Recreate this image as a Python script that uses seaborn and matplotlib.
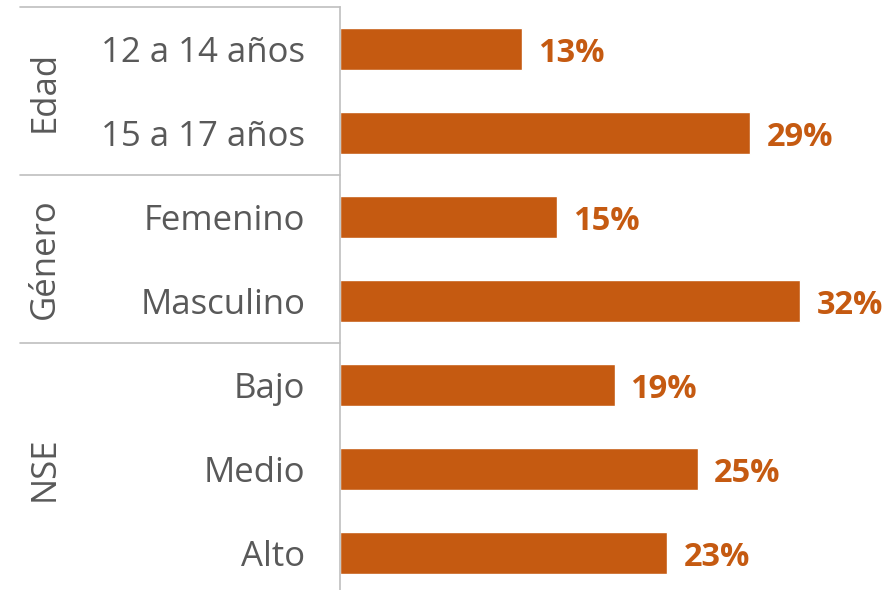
import pandas as pd
import matplotlib.pyplot as plt
import matplotlib.transforms as mtransforms
import seaborn as sns

# data
categories = ["12 a 14 años", "15 a 17 años", "Femenino", "Masculino", "Bajo", "Medio", "Alto"]
values = [12.7, 28.7, 15.2, 32.2, 19.2, 25.0, 22.9]
groups = ["Edad", "Género", "NSE"]
group_rows = [(0, 1), (2, 3), (4, 6)]

BAR = "#C55A11"
TEXT = "#595959"
LINE = "#BFBFBF"

sns.set_theme(style="white")
plt.rcParams["font.family"] = ["Open Sans", "DejaVu Sans"]

df = pd.DataFrame({"cat": categories, "val": values})

fig = plt.figure(figsize=(8.92, 5.90), dpi=100)
ax = fig.add_axes([340 / 892, 0, 552 / 892, 583 / 590])

sns.barplot(data=df, x="val", y="cat", order=categories, color=BAR,
            saturation=1, width=0.5, orient="h", ax=ax)

ax.set_xlim(0, 552 / 14.3)
ax.set_ylim(6.44, -0.5)
ax.set_xlabel("")
ax.set_ylabel("")
ax.set_xticks([])
for side in ["top", "right", "bottom"]:
    ax.spines[side].set_visible(False)
ax.spines["left"].set_color(LINE)
ax.spines["left"].set_linewidth(1.2)

ax.set_yticks(range(len(categories)))
ax.set_yticklabels(categories, fontsize=25, color=TEXT)
ax.tick_params(axis="y", length=0, pad=25)

# value labels
for i, v in enumerate(values):
    ax.text(v + 16 / 14.3, i, f"{round(v)}%", va="center_baseline", ha="left",
            fontsize=23.5, fontweight="bold", color=BAR)

# group separators and group names
trans = mtransforms.blended_transform_factory(ax.transAxes, ax.transData)
x0 = (20 - 340) / 552
for y in [-0.5, 1.5, 3.5]:
    ax.plot([x0, 0], [y, y], color=LINE, lw=1.2, transform=trans, clip_on=False)
for name, (a, b) in zip(groups, group_rows):
    ax.text((45 - 340) / 552, (a + b) / 2, name, rotation=90, ha="center",
            va="center", fontsize=25, color=TEXT, transform=trans)

fig.savefig("out.png", dpi=100)
